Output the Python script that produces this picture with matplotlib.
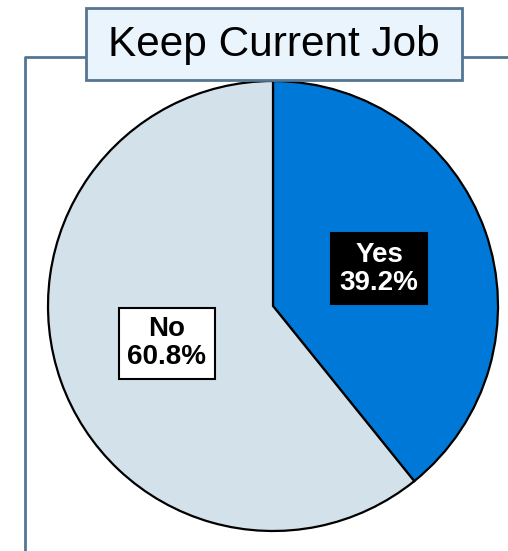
import matplotlib.pyplot as plt
from matplotlib.patches import Rectangle

plt.rcParams['font.family'] = ['Liberation Sans', 'DejaVu Sans']

title = 'Keep Current Job'
labels = ['Yes', 'No']
shares = [39.2, 60.8]
colors = ['#0078d7', '#d3e1ea']

W, H = 508, 551
fig = plt.figure(figsize=(W / 100, H / 100), dpi=100)
ax = fig.add_axes([0, 0, 1, 1])
ax.set_xlim(0, W)
ax.set_ylim(0, H)
ax.set_aspect('equal')
ax.axis('off')

# outer frame: left and top rule running into the title box
frame_col = '#557592'
ax.plot([25, 25, 86], [0, H - 57, H - 57], color=frame_col, lw=2, solid_capstyle='butt')
ax.plot([462, W], [H - 57, H - 57], color=frame_col, lw=2, solid_capstyle='butt')

wedges, texts, autotexts = ax.pie(
    shares, colors=colors, startangle=90, counterclock=False,
    center=(273, H - 306), radius=225, frame=True,
    wedgeprops=dict(edgecolor='black', linewidth=1.6),
    autopct='%.1f%%', pctdistance=0.5,
)
ax.set_xlim(0, W)
ax.set_ylim(0, H)
ax.axis('off')

for t, lab, share, face in zip(autotexts, labels, shares, ['black', 'white']):
    t.set_text(f'{lab}\n{share:.1f}%')
    t.set_fontsize(20)
    t.set_fontweight('bold')
    t.set_linespacing(1.1)
    t.set_color('white' if face == 'black' else 'black')
    t.set_bbox(dict(boxstyle='square,pad=0.3', facecolor=face, edgecolor='black', linewidth=1.5))

# title box
ax.add_patch(Rectangle((86, H - 80), 376, 72, facecolor='#eaf4fd', edgecolor=frame_col, lw=2, zorder=5))
ax.text(274, H - 45, title, ha='center', va='center', fontsize=30.5, zorder=6)

fig.savefig('out.png', dpi=100)
